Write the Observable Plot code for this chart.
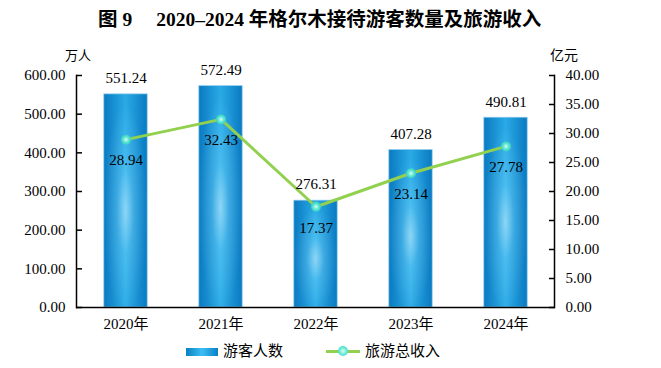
<!DOCTYPE html>
<html><head><meta charset="utf-8">
<script src="https://cdn.jsdelivr.net/npm/d3@7"></script>
<script src="https://cdn.jsdelivr.net/npm/@observablehq/plot@0.6"></script>
<style>
body{margin:0;background:#fff;}
#wrap{position:relative;width:661px;height:368px;overflow:hidden;font-family:"Liberation Serif","Noto Sans CJK SC",serif;color:#000;}
#wrap svg{position:absolute;left:0;top:0;}
.abs{position:absolute;white-space:nowrap;line-height:1;}
</style>
</head><body>
<div id="wrap">
  <div class="abs" style="left:98px;top:10px;font-size:19.5px;font-weight:bold;">图 9<span style="display:inline-block;width:24px"></span>2020–2024 年格尔木接待游客数量及旅游收入</div>
  <div class="abs" style="left:65px;top:49px;font-size:13px;">万人</div>
  <div class="abs" style="left:550px;top:49px;font-size:14px;">亿元</div>
  <div class="abs" style="left:186px;top:348px;width:32px;height:8px;background:linear-gradient(to right,#0a7fc6,#3cc0f2,#0a7fc6);"></div>
  <div class="abs" style="left:223px;top:344px;font-size:15px;">游客人数</div>
  <div class="abs" style="left:326px;top:350px;width:34px;height:3px;background:#92d050;"></div>
  <div class="abs" style="left:338px;top:346px;width:10px;height:10px;border-radius:50%;background:radial-gradient(circle,#d8fff4 0%,#5fe6d2 55%,#38cfc4 100%);"></div>
  <div class="abs" style="left:365px;top:344px;font-size:15px;">旅游总收入</div>
</div>
<script>
const years = ["2020年", "2021年", "2022年", "2023年", "2024年"];
const visitors = [551.24, 572.49, 276.31, 407.28, 490.81];
const revenue = [28.94, 32.43, 17.37, 23.14, 27.78];
const leftTicks = [0, 100, 200, 300, 400, 500, 600];
const rightTicks = [0, 5, 10, 15, 20, 25, 30, 35, 40];
const ratio = 600 / 40;

const data = years.map((y, i) => ({year: y, visitors: visitors[i], revenue: revenue[i], rev: revenue[i] * ratio}));

const chart = Plot.plot({
  width: 661,
  height: 368,
  marginTop: 75,
  marginBottom: 61,
  marginLeft: 76,
  marginRight: 107,
  style: {fontFamily: '"Liberation Serif","Noto Sans CJK SC",serif', fontSize: "15px", color: "#000", background: "transparent", overflow: "visible"},
  x: {domain: years, padding: 0, label: null},
  y: {domain: [0, 600], label: null},
  marks: [
    Plot.barY(data, {x: "year", y: "visitors", fill: "url(#barGrad)", stroke: "#9fd6f2", strokeWidth: 0.8, insetLeft: 25.8, insetRight: 25.8}),
    Plot.barY(data, {x: "year", y: "visitors", fill: "url(#glowGrad)", insetLeft: 25.8, insetRight: 25.8}),
    Plot.ruleY([0], {stroke: "#000", strokeWidth: 1.6}),
    Plot.frame({anchor: "left", stroke: "#000", strokeWidth: 1.5}),
    Plot.frame({anchor: "right", stroke: "#000", strokeWidth: 1.5}),
    Plot.axisY({anchor: "left", ticks: leftTicks, tickFormat: d => d.toFixed(2), tickSize: -6, tickPadding: 17, strokeWidth: 1.5, fontSize: 15, label: null}),
    Plot.axisY({anchor: "right", ticks: rightTicks.map(d => d * ratio), tickFormat: d => (d / ratio).toFixed(2), tickSize: -6, tickPadding: 17, strokeWidth: 1.5, fontSize: 15, label: null}),
    Plot.axisX({tickSize: 0, tickPadding: 11, fontSize: 15, label: null}),
    Plot.line(data, {x: "year", y: "rev", stroke: "#92d050", strokeWidth: 3}),
    Plot.dot(data, {x: "year", y: "rev", r: 5, fill: "url(#dotGrad)", stroke: null}),
    Plot.text(data, {x: "year", y: "visitors", text: d => d.visitors.toFixed(2), dy: -16, fontSize: 15}),
    Plot.text(data, {x: "year", y: "rev", text: d => d.revenue.toFixed(2), dy: 21, fontSize: 15})
  ]
});

const ns = "http://www.w3.org/2000/svg";
const defs = document.createElementNS(ns, "defs");
defs.innerHTML = `
<linearGradient id="barGrad" x1="0" x2="1" y1="0" y2="0">
  <stop offset="0%" stop-color="#0a7cc4"/>
  <stop offset="50%" stop-color="#2fb4ee"/>
  <stop offset="100%" stop-color="#0a7cc4"/>
</linearGradient>
<radialGradient id="glowGrad" cx="0.5" cy="0.55" r="0.5">
  <stop offset="0%" stop-color="#ffffff" stop-opacity="0.45"/>
  <stop offset="40%" stop-color="#ffffff" stop-opacity="0.12"/>
  <stop offset="100%" stop-color="#0a6fb4" stop-opacity="0.15"/>
</radialGradient>
<radialGradient id="dotGrad">
  <stop offset="0%" stop-color="#d8fff4"/>
  <stop offset="55%" stop-color="#5fe6d2"/>
  <stop offset="100%" stop-color="#38cfc4"/>
</radialGradient>`;
chart.insertBefore(defs, chart.firstChild);
document.getElementById("wrap").appendChild(chart);
</script>
</body></html>
